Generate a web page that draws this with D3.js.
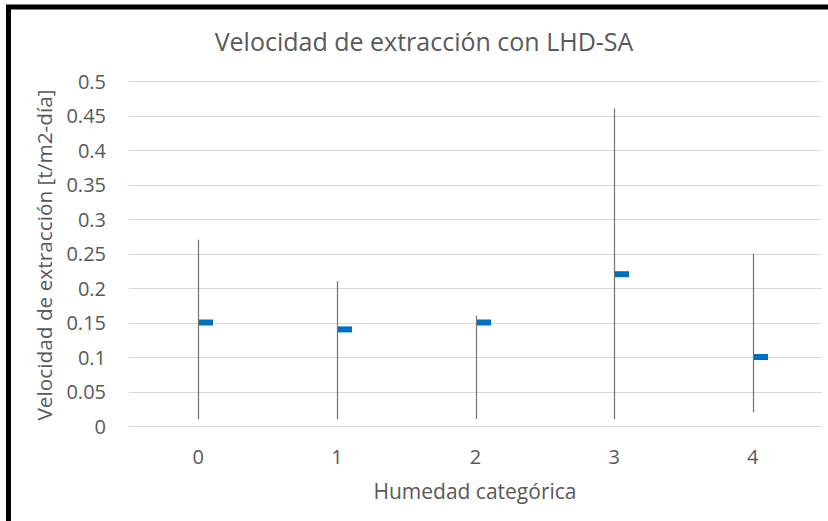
<!DOCTYPE html>
<html><head><meta charset="utf-8">
<script src="https://cdn.jsdelivr.net/npm/d3@7"></script>
<style>body{margin:0;background:#fff}svg{display:block}text{font-family:"Open Sans",sans-serif}</style>
</head><body>
<svg id="c" width="828" height="521"></svg>
<script>
const categories = ["0","1","2","3","4"];
const highValues = [0.27, 0.21, 0.16, 0.46, 0.25];
const lowValues = [0.01, 0.01, 0.01, 0.01, 0.02];
const meanValues = [0.15, 0.14, 0.15, 0.22, 0.10];
const yTicks = [0,0.05,0.1,0.15,0.2,0.25,0.3,0.35,0.4,0.45,0.5];
const titleText = "Velocidad de extracción con LHD-SA";
const xTitle = "Humedad categórica";
const yTitle = "Velocidad de extracción [t/m2-día]";

const svg = d3.select("#c");
svg.append("path").attr("d","M8.5,521 L8.5,7 L828,7").attr("fill","none").attr("stroke","#000").attr("stroke-width",5);

const x = d3.scaleBand().domain(categories).range([129, 822]);
const y = d3.scaleLinear().domain([0, 0.5]).range([426, 81]);

svg.append("g").selectAll("line").data(yTicks).join("line")
  .attr("x1",129).attr("x2",822).attr("y1",d=>Math.round(y(d))+0.5).attr("y2",d=>Math.round(y(d))+0.5)
  .attr("stroke","#d9d9d9").attr("stroke-width",1);

const yAxis = svg.append("g").attr("transform","translate(109,0)")
  .call(d3.axisLeft(y).tickValues(yTicks).tickFormat(d=>String(d)).tickSize(0));
yAxis.select(".domain").remove();
yAxis.selectAll("text").attr("fill","#595959").attr("font-size",20).attr("dx",0).attr("dy","0.36em");

const xAxis = svg.append("g").attr("transform","translate(0,447)")
  .call(d3.axisBottom(x).tickSize(0));
xAxis.select(".domain").remove();
xAxis.selectAll("text").attr("fill","#595959").attr("font-size",20).attr("dy","0.7em");

const cx = c => x(c) + x.bandwidth()/2;
svg.append("g").selectAll("line").data(categories).join("line")
  .attr("x1",d=>Math.round(cx(d))+0.5).attr("x2",d=>Math.round(cx(d))+0.5)
  .attr("y1",(d,i)=>y(highValues[i])).attr("y2",(d,i)=>y(lowValues[i]))
  .attr("stroke","#737373").attr("stroke-width",1.2);

svg.append("g").selectAll("rect").data(categories).join("rect")
  .attr("x",d=>Math.round(cx(d))+1).attr("width",14)
  .attr("y",(d,i)=>y(meanValues[i])-3).attr("height",6)
  .attr("fill","#0070c0");

svg.append("text").attr("x",424).attr("y",51).attr("text-anchor","middle")
  .attr("fill","#595959").attr("font-size",25).text(titleText);
svg.append("text").attr("x",475).attr("y",499).attr("text-anchor","middle")
  .attr("fill","#595959").attr("font-size",21).text(xTitle);
svg.append("text").attr("transform","translate(52,255) rotate(-90)").attr("text-anchor","middle")
  .attr("fill","#595959").attr("font-size",20.8).text(yTitle);
</script>
</body></html>
